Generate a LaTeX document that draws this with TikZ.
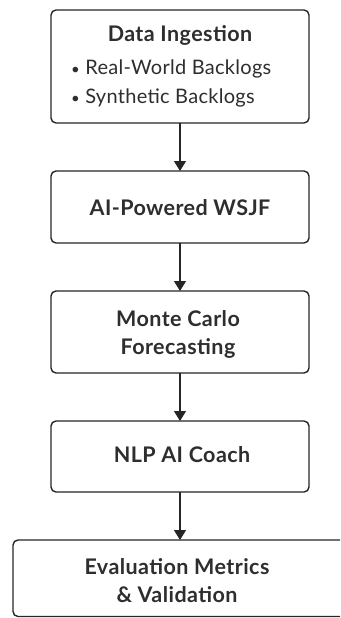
\documentclass[tikz,border=0pt]{standalone}
\usepackage{fontspec}
\setmainfont{Lato}
\usetikzlibrary{arrows.meta}
\definecolor{ink}{HTML}{2E2E2E}
\definecolor{edge}{HTML}{262626}
\tikzset{
  stepbox/.style={draw=edge, line width=1.4pt, rounded corners=5pt, fill=white},
  head/.style={text=ink, font=\fontsize{21.5}{28}\selectfont\bfseries\addfontfeature{LetterSpace=2}, align=center, inner sep=0pt},
  item/.style={text=ink, font=\fontsize{20}{24}\selectfont\addfontfeature{LetterSpace=1.5}, anchor=west, inner sep=0pt},
  flow/.style={draw=edge, line width=1.3pt, -{Triangle[length=10pt,width=12pt]}}
}
\begin{document}
\begin{tikzpicture}[x=1pt,y=-1pt]
\useasboundingbox (0,0) rectangle (340,618);
\clip (0,0) rectangle (340,618);
\draw[stepbox] (51,10) rectangle (309,123);
\draw[stepbox] (51,171) rectangle (309,243);
\draw[stepbox] (51,291) rectangle (309,373);
\draw[stepbox] (51,421) rectangle (309,492);
\draw[stepbox] (13,540) rectangle (347,616.5);
\node[head] (h1) at (180,35) {Data Ingestion};
\node[item] (i1) at (71,69) {{\fontsize{15}{15}\selectfont\textbullet}\ Real-World Backlogs};
\node[item] (i2) at (71,98) {{\fontsize{15}{15}\selectfont\textbullet}\ Synthetic Backlogs};
\node[head] (h2) at (180,208) {AI-Powered WSJF};
\node[head] (h3) at (178,334) {Monte Carlo\\Forecasting};
\node[head] (h4) at (182,455) {NLP AI Coach};
\node[head] (h5) at (177,581) {Evaluation Metrics\\\& Validation};
\coordinate (a1s) at (180,123); \coordinate (a1e) at (180,171);
\coordinate (a2s) at (180,243); \coordinate (a2e) at (180,291);
\coordinate (a3s) at (180,373); \coordinate (a3e) at (180,421);
\coordinate (a4s) at (180,492); \coordinate (a4e) at (180,540);
\draw[flow] (a1s) -- (a1e);
\draw[flow] (a2s) -- (a2e);
\draw[flow] (a3s) -- (a3e);
\draw[flow] (a4s) -- (a4e);
\end{tikzpicture}
\end{document}
